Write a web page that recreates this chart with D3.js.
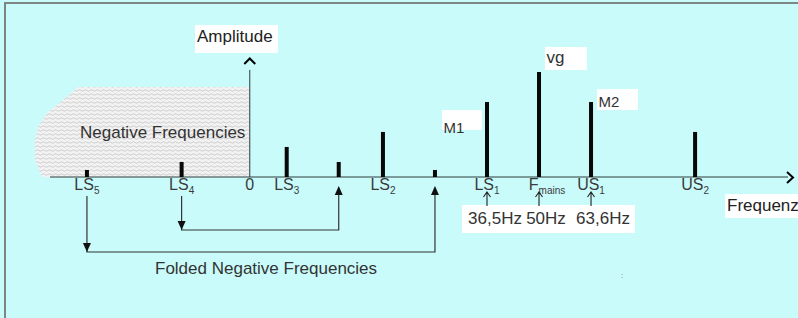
<!DOCTYPE html>
<html>
<head>
<meta charset="utf-8">
<script src="https://cdn.jsdelivr.net/npm/d3@7/dist/d3.min.js"></script>
<style>
body { margin: 0; background: #fff; }
svg { display: block; font-family: "Liberation Sans", Arial, sans-serif; }
</style>
</head>
<body>
<svg width="798" height="318"></svg>
<script>
// schematic spectrum, x in units of the sideband spacing (Fmains = 0), amplitude relative to Fmains
var lineNames = ["LS5", "LS4", "LS3", "LS4f", "LS2", "LS5f", "LS1", "Fmains", "US1", "US2"];
var linePos = [-8.69, -6.87, -4.85, -3.85, -3, -2, -1, 0, 1, 3];
var lineAmp = [0.067, 0.143, 0.286, 0.143, 0.429, 0.067, 0.714, 1.0, 0.714, 0.429];

var tickMain = ["LS", "LS", "0", "LS", "LS", "LS", "F", "US", "US"];
var tickSub = ["5", "4", "", "3", "2", "1", "mains", "1", "2"];
var tickPos = [-8.69, -6.87, -5.56, -4.85, -3, -1, 0, 1, 3];

var peakNames = ["M1", "vg", "M2"];
var peakPos = [-1, 0, 1];
var peakAmp = [0.714, 1.0, 0.714];

var hzLabels = ["36,5Hz", "50Hz", "63,6Hz"];
var hzPos = [-1, 0, 1];

var foldFrom = [-6.87, -8.69];
var foldTo = [-3.85, -2];

var zeroPos = -5.56;
var negRegion = [[-8.86, 0.857], [-5.56, 0.857], [-5.56, 0], [-9.55, 0], [-9.69, 0.162],
                 [-9.69, 0.352], [-9.63, 0.476], [-9.46, 0.61], [-9.15, 0.733]];

var svg = d3.select("svg");
var W = 798, H = 318;

var x = d3.scaleLinear().domain([-9.4, 4.69]).range([50, 783]);
var y = d3.scaleLinear().domain([0, 1]).range([177, 72]);
var y0 = y(0);

svg.append("rect").attr("width", W).attr("height", H).attr("fill", "#c9fbfb");
// frame
svg.append("line").attr("x1", 4).attr("x2", W).attr("y1", 3).attr("y2", 3)
    .attr("stroke", "#7d8585").attr("stroke-width", 2);
svg.append("line").attr("x1", 5).attr("x2", 5).attr("y1", 2).attr("y2", H)
    .attr("stroke", "#7d8585").attr("stroke-width", 2);

// wavy texture for the negative frequency area
var defs = svg.append("defs");
var pat = defs.append("pattern").attr("id", "wavy").attr("patternUnits", "userSpaceOnUse")
    .attr("width", 6).attr("height", 4);
pat.append("rect").attr("width", 6).attr("height", 4).attr("fill", "#f2f2f2");
pat.append("path").attr("d", "M0,2.5 Q1.5,1 3,2.5 T6,2.5")
    .attr("fill", "none").attr("stroke", "#b4b4b4").attr("stroke-width", 0.6);

svg.append("path")
    .datum(negRegion)
    .attr("d", d3.line().x(d => x(d[0])).y(d => y(d[1])).curve(d3.curveLinearClosed))
    .attr("fill", "url(#wavy)");

svg.append("text").attr("x", 80).attr("y", 138)
    .attr("font-size", 17).attr("fill", "#333")
    .text("Negative Frequencies");

// axes
var x0 = x(zeroPos);
svg.append("line").attr("x1", x(-9.4)).attr("x2", 788).attr("y1", y0).attr("y2", y0)
    .attr("stroke", "#2f3b3b").attr("stroke-width", 1);
svg.append("path").attr("d", `M787,172 L793,177.5 L787,183`)
    .attr("fill", "none").attr("stroke", "#000").attr("stroke-width", 2);
svg.append("line").attr("x1", x0).attr("x2", x0).attr("y1", y(1.02)).attr("y2", y0)
    .attr("stroke", "#2f3b3b").attr("stroke-width", 1);
svg.append("path").attr("d", `M${x0 - 5.5},64 L${x0},58.5 L${x0 + 5.5},64`)
    .attr("fill", "none").attr("stroke", "#000").attr("stroke-width", 2);

// spectral lines
svg.selectAll("rect.bar")
    .data(lineNames)
    .enter().append("rect")
    .attr("class", "bar")
    .attr("x", (d, i) => x(linePos[i]) - 2)
    .attr("y", (d, i) => y(lineAmp[i]))
    .attr("width", 4)
    .attr("height", (d, i) => y0 - y(lineAmp[i]))
    .attr("fill", "#080808");

// axis labels
var ticks = svg.selectAll("text.tick")
    .data(tickMain)
    .enter().append("text")
    .attr("class", "tick")
    .attr("x", (d, i) => x(tickPos[i]) + (tickSub[i] === "mains" ? 8 : 0))
    .attr("y", 190)
    .attr("text-anchor", "middle")
    .attr("font-size", 16)
    .attr("fill", "#3a3a3a");
ticks.append("tspan").text(d => d);
ticks.append("tspan")
    .attr("font-size", 10)
    .attr("dy", 4)
    .text((d, i) => tickSub[i]);

// peak names in white boxes
var boxDx = [-45, 6, 6], boxDy = [8, -25, -13], boxW = [40, 42, 41], boxH = [20, 23, 21];
var peakFont = [15, 17, 15], textDy = [23, 16, 18];
peakNames.forEach(function(name, i) {
    var bx = x(peakPos[i]) + boxDx[i], by = y(peakAmp[i]) + boxDy[i];
    svg.append("rect").attr("x", bx).attr("y", by).attr("width", boxW[i]).attr("height", boxH[i])
        .attr("fill", "#fff");
    svg.append("text").attr("x", bx + 1.5).attr("y", by + textDy[i])
        .attr("font-size", peakFont[i]).attr("fill", "#333").text(name);
});

// Amplitude label
svg.append("rect").attr("x", 195).attr("y", 25).attr("width", 83).attr("height", 28).attr("fill", "#fff");
svg.append("text").attr("x", 197).attr("y", 42).attr("font-size", 17).attr("fill", "#222").text("Amplitude");

// Frequenz label
svg.append("rect").attr("x", 725).attr("y", 194).attr("width", 73).attr("height", 24).attr("fill", "#fff");
svg.append("text").attr("x", 727).attr("y", 211).attr("font-size", 17).attr("fill", "#222").text("Frequenz");

// Hz values with small arrows
svg.append("rect").attr("x", x(hzPos[0]) - 25).attr("y", 205)
    .attr("width", x(hzPos[2]) - x(hzPos[0]) + 69).attr("height", 28).attr("fill", "#fff");
svg.selectAll("text.hz")
    .data(hzLabels)
    .enter().append("text")
    .attr("class", "hz")
    .attr("x", (d, i) => x(hzPos[i]) + (i === 0 ? 8 : i === 1 ? 7 : 12))
    .attr("y", 224)
    .attr("text-anchor", "middle")
    .attr("font-size", 17)
    .attr("fill", "#333")
    .text(d => d);
svg.selectAll("path.hzarrow")
    .data(hzPos)
    .enter().append("path")
    .attr("class", "hzarrow")
    .attr("d", d => `M${x(d)},206 V192 M${x(d) - 3.5},197 L${x(d)},192 L${x(d) + 3.5},197`)
    .attr("fill", "none").attr("stroke", "#222").attr("stroke-width", 1.1);

// folding arrows
var foldLevel = [230, 252];
foldFrom.forEach(function(f, i) {
    var a = x(f), b = x(foldTo[i]), lv = foldLevel[i];
    svg.append("path")
        .attr("d", `M${a},196 V${lv} H${b} V188`)
        .attr("fill", "none").attr("stroke", "#333").attr("stroke-width", 1.2);
    svg.append("path")
        .attr("d", `M${a - 4},${lv - 9} L${a + 4},${lv - 9} L${a},${lv} Z`)
        .attr("fill", "#111");
    svg.append("path")
        .attr("d", `M${b - 4},195 L${b + 4},195 L${b},186 Z`)
        .attr("fill", "#111");
});

svg.append("text").attr("x", 155).attr("y", 274)
    .attr("font-size", 17).attr("fill", "#333")
    .text("Folded Negative Frequencies");

svg.append("text").attr("x", 621).attr("y", 278)
    .attr("font-size", 8).attr("fill", "#777").text(":");
</script>
</body>
</html>
